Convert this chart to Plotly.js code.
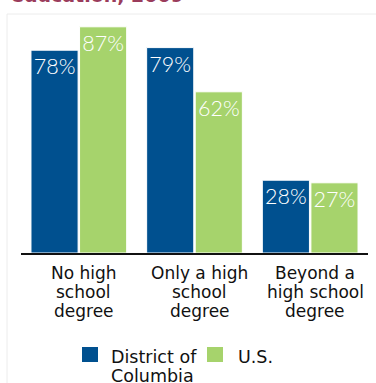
<!DOCTYPE html>
<html>
<head>
<meta charset="utf-8">
<script src="https://cdn.plot.ly/plotly-3.0.1.min.js"></script>
<style>html,body{margin:0;padding:0;background:#fff;overflow:hidden}#chart{width:376px;height:383px}</style>
</head>
<body>
<div id="chart"></div>
<script>
// ---- data ----
const categories = ["No high<br>school<br>degree", "Only a high<br>school<br>degree", "Beyond a<br>high school<br>degree"];
const seriesNames = ["District of<br>Columbia", "U.S."];
const dcValues = [78, 79, 28];
const usValues = [87, 62, 27];
const titleText = "education, 2009";

// ---- styles ----
const blue = "#00508f";
const green = "#a6d36c";
const labelFont = "DejaVu Sans, sans-serif";

const W = 376, H = 383;
const M = {l: 21, r: 8, t: 19, b: 130};

function barTrace(name, vals, color) {
  return {
    type: "bar",
    name: name,
    x: categories,
    y: vals,
    text: vals.map(v => v + "%"),
    textposition: "inside",
    insidetextanchor: "end",
    textangle: 0,
    constraintext: "none",
    textfont: {family: "Lato, sans-serif", size: 21.5, color: "#ffffff", weight: 300},
    marker: {color: color, line: {color: "#ffffff", width: 1}},
    hoverinfo: "skip",
    cliponaxis: false
  };
}

const annotations = [];
const lineH = 19.2;
// category labels, one annotation per line (tight line spacing)
categories.forEach((c, i) => {
  c.split("<br>").forEach((line, j) => {
    annotations.push({
      xref: "x", yref: "paper", x: i, y: 0,
      xshift: 5,
      yshift: -(19.5 + j * lineH),
      xanchor: "center", yanchor: "middle",
      text: line, showarrow: false,
      font: {family: labelFont, size: 17, color: "#111"}
    });
  });
});

// custom legend
const legendItems = [
  {name: seriesNames[0], color: blue, boxX: 82, textX: 109},
  {name: seriesNames[1], color: green, boxX: 207, textX: 236}
];
const shapes = [];
const baseY = H - M.b; // pixel y of plot bottom
legendItems.forEach(it => {
  shapes.push({
    type: "rect", xref: "paper", yref: "paper",
    xsizemode: "pixel", ysizemode: "pixel",
    xanchor: 0, yanchor: 0,
    x0: it.boxX - M.l, x1: it.boxX + 16 - M.l,
    y0: -(362 - baseY), y1: -(347 - baseY),
    fillcolor: it.color, line: {width: 0}
  });
  it.name.split("<br>").forEach((line, j) => {
    annotations.push({
      xref: "paper", yref: "paper", x: 0, y: 0,
      xshift: it.textX - M.l, yshift: -(357 - baseY + j * 18.5),
      xanchor: "left", yanchor: "middle",
      text: line, showarrow: false,
      font: {family: labelFont, size: 17.5, color: "#111"}
    });
  });
});

// title (cropped at top of image)
annotations.push({
  xref: "paper", yref: "paper", x: 0, y: 1,
  xshift: 9 - M.l, yshift: M.t - 8,
  xanchor: "left", yanchor: "bottom",
  text: "<b>" + titleText + "</b>", showarrow: false,
  font: {family: "DejaVu Sans, sans-serif", size: 19, color: "#9a3c5c"}
});

// faint frame
const pw = W - M.l - M.r;
const ph = H - M.t - M.b;
shapes.push({
  type: "path", xref: "paper", yref: "paper",
  path: "M " + ((7 - M.l) / pw) + "," + (-(390 - baseY) / ph) +
        " L " + ((7 - M.l) / pw) + "," + ((baseY - 14) / ph) +
        " L " + ((380 - M.l) / pw) + "," + ((baseY - 14) / ph),
  line: {color: "#ececec", width: 1}
});

const layout = {
  width: W, height: H,
  margin: M,
  paper_bgcolor: "#ffffff", plot_bgcolor: "rgba(0,0,0,0)",
  showlegend: false,
  barmode: "group",
  bargap: 0.16,
  bargroupgap: 0.03,
  xaxis: {
    type: "category", range: [-0.5, 2.5],
    showline: true, linecolor: "#111", linewidth: 2,
    showticklabels: false, ticks: "", showgrid: false, zeroline: false, fixedrange: true
  },
  yaxis: {
    range: [0, 90], visible: false, showgrid: false, zeroline: false, fixedrange: true
  },
  annotations: annotations,
  shapes: shapes
};

Plotly.newPlot("chart", [barTrace(seriesNames[0], dcValues, blue), barTrace(seriesNames[1], usValues, green)], layout, {displayModeBar: false, staticPlot: true});
</script>
</body>
</html>
